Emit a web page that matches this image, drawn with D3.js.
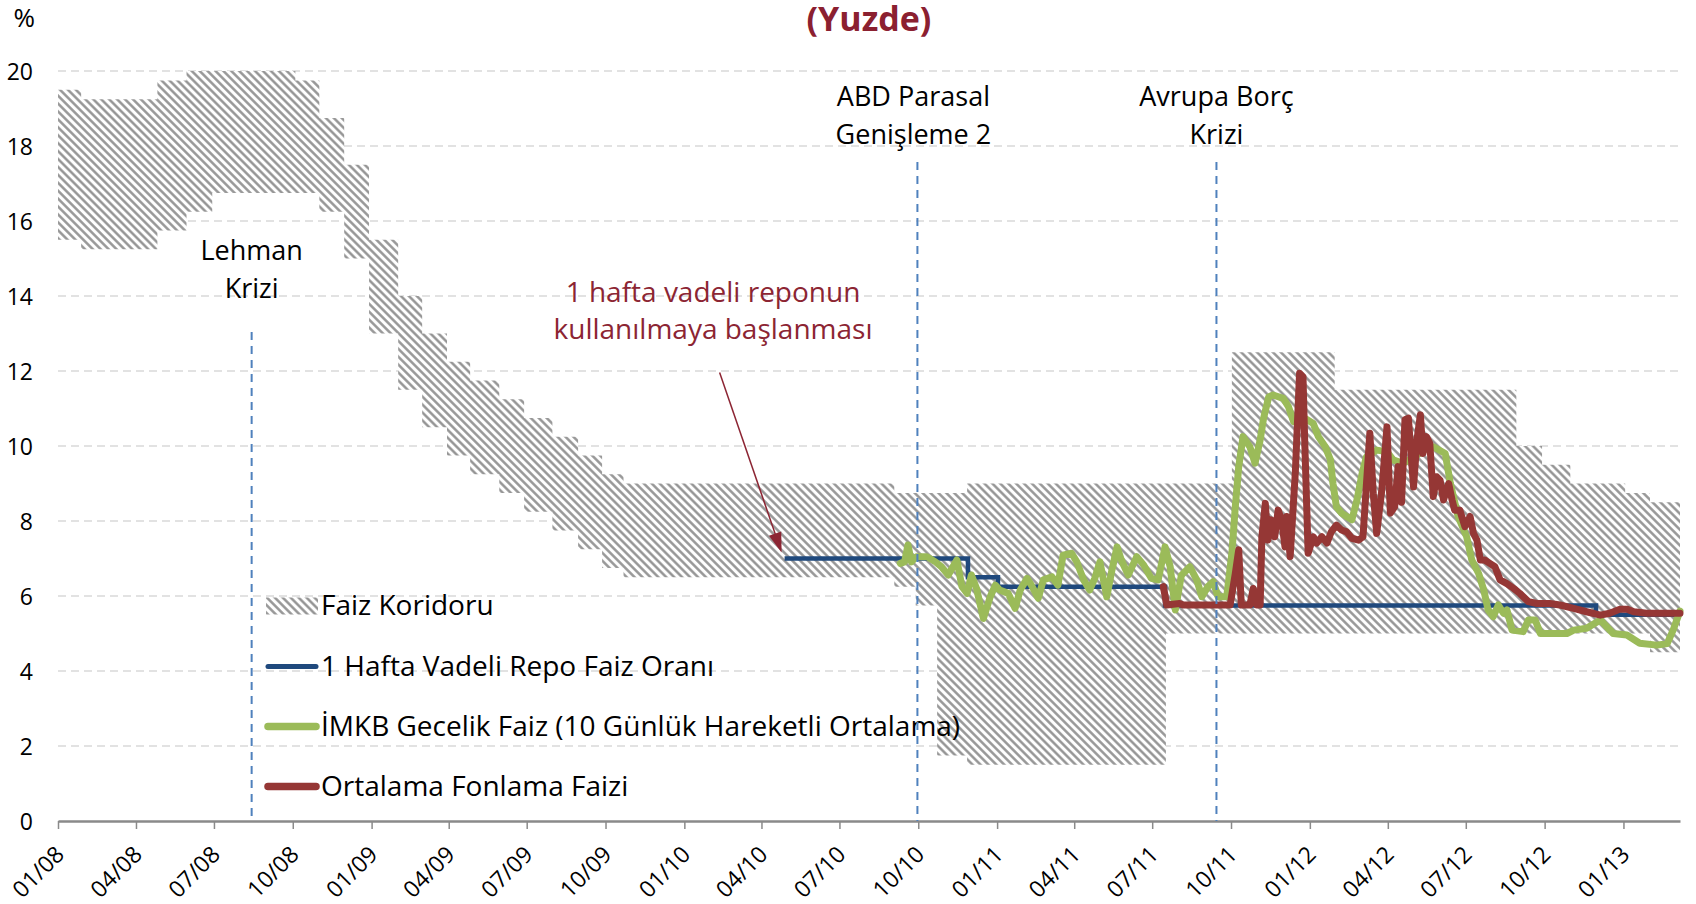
<!DOCTYPE html>
<html>
<head>
<meta charset="utf-8">
<title>Faiz Koridoru</title>
<script src="https://cdn.jsdelivr.net/npm/d3@7/dist/d3.min.js"></script>
<style>
  body { margin: 0; background: #fff; }
  #chart text { font-family: "Open Sans", sans-serif; }
</style>
</head>
<body>
<div id="chart"></div>
<script>
// Size of the SVG
var w = 1696;
var h = 904;

var parseDate = d3.timeParse("%Y-%m-%d");
var startDate = "2008-01-01";
var endDate = "2013-03-08";

// Faiz koridoru: start of each step, lower and upper bound
var corridorDates = ["2008-01-01","2008-01-28","2008-04-26","2008-05-30","2008-06-29","2008-10-04",
  "2008-11-01","2008-11-30","2008-12-29","2009-02-01","2009-03-01","2009-03-30","2009-04-26",
  "2009-05-30","2009-06-28","2009-07-31","2009-08-30","2009-09-27","2009-10-22","2010-09-03",
  "2010-09-28","2010-10-23","2010-11-27","2011-07-17","2011-10-02","2012-01-30","2012-08-29",
  "2012-09-28","2012-10-31","2013-01-03","2013-02-01"];
var corridorLower = [15.5,15.25,15.75,16.25,16.75,16.75,16.25,15,13,11.5,10.5,9.75,9.25,
  8.75,8.25,7.75,7.25,6.75,6.5,6.25,5.75,1.75,1.5,5,5,5,5,5,5,5,4.5];
var corridorUpper = [19.5,19.25,19.75,20.25,20.75,19.75,18.75,17.5,15.5,14,13,12.25,11.75,
  11.25,10.75,10.25,9.75,9.25,9,8.75,8.75,8.75,9,9,12.5,11.5,10,9.5,9,8.75,8.5];

// 1 hafta vadeli repo faiz orani (steps)
var repoDates = ["2010-04-28","2010-11-28","2011-01-02","2011-07-16","2012-11-30"];
var repoValues = [7, 6.5, 6.25, 5.75, 5.5];

// IMKB gecelik faiz (10 gunluk hareketli ortalama)
var imkbDates = [
  "2010-09-10","2010-09-15","2010-09-19","2010-09-23","2010-09-29","2010-10-11","2010-10-21","2010-10-28",
  "2010-11-05","2010-11-15","2010-11-21","2010-11-27","2010-12-02","2010-12-08","2010-12-16","2010-12-24","2010-12-30",
  "2011-01-04","2011-01-14","2011-01-22","2011-01-28","2011-02-05","2011-02-10","2011-02-18","2011-02-24",
  "2011-03-06","2011-03-13","2011-03-19","2011-03-29","2011-04-04","2011-04-12","2011-04-19","2011-04-25",
  "2011-05-01","2011-05-09","2011-05-15","2011-05-21","2011-05-26","2011-06-03","2011-06-13","2011-06-21","2011-06-30",
  "2011-07-08","2011-07-16","2011-07-22","2011-07-28","2011-08-04","2011-08-14","2011-08-22","2011-08-28",
  "2011-09-04","2011-09-10","2011-09-16","2011-09-26","2011-10-02","2011-10-06","2011-10-10","2011-10-15","2011-10-23","2011-10-29",
  "2011-11-04","2011-11-08","2011-11-14","2011-11-19","2011-12-01","2011-12-07","2011-12-13","2011-12-19","2011-12-26",
  "2012-01-05","2012-01-11","2012-01-19","2012-01-25","2012-01-28","2012-02-01","2012-02-07","2012-02-13","2012-02-19","2012-02-25",
  "2012-03-02","2012-03-07","2012-03-19","2012-03-31","2012-04-07","2012-04-19","2012-05-02","2012-05-14","2012-05-24",
  "2012-06-07","2012-06-13","2012-06-22","2012-07-02","2012-07-08","2012-07-16","2012-07-22","2012-07-27",
  "2012-08-02","2012-08-08","2012-08-14","2012-08-18","2012-08-24","2012-09-06","2012-09-12","2012-09-20","2012-09-26",
  "2012-10-27","2012-11-04","2012-11-19","2012-12-05","2012-12-20","2013-01-05","2013-01-20","2013-02-09","2013-02-21","2013-02-28","2013-03-08"];
var imkbValues = [
  6.87,6.91,7.36,6.91,7.05,7.05,6.91,6.78,
  6.56,6.96,6.25,6.07,6.56,6.2,5.4,5.98,6.29,
  6.16,6.07,5.67,6.16,6.47,6.29,5.94,6.43,
  6.51,6.29,7.09,7.14,6.91,6.43,6.16,6.47,
  6.91,5.98,6.69,7.31,6.96,6.56,7.05,6.83,6.47,
  6.43,7.31,6.78,5.63,6.55,6.78,6.43,5.98,
  6.25,6.38,5.98,5.98,7.14,8.38,9.45,10.25,9.98,9.54,
  10.16,10.74,11.31,11.36,11.27,11.05,10.65,10.69,10.74,
  10.6,10.25,9.98,9.63,9.0,8.38,8.21,8.12,8.03,8.56,
  9.27,9.71,9.89,9.85,9.63,9.54,9.71,9.9,9.98,
  9.8,9.0,8.12,7.58,6.96,6.6,6.16,5.63,
  5.45,5.76,5.54,5.63,5.09,5.05,5.36,5.36,5.0,
  5.0,5.09,5.14,5.36,5.0,4.96,4.74,4.69,4.73,5.09,5.6];

// Ortalama fonlama faizi
var fundingDates = [
  "2011-07-14","2011-07-18","2011-08-02","2011-08-06","2011-09-30","2011-10-06","2011-10-10","2011-10-13","2011-10-23","2011-10-27","2011-10-31","2011-11-04",
  "2011-11-06","2011-11-10","2011-11-13","2011-11-17","2011-11-21","2011-11-25","2011-11-29","2011-12-03","2011-12-05","2011-12-09","2011-12-15","2011-12-20","2011-12-24","2011-12-26","2011-12-30",
  "2012-01-05","2012-01-09","2012-01-15","2012-01-21","2012-01-26","2012-02-01","2012-02-07","2012-02-13","2012-02-19","2012-02-27",
  "2012-03-03","2012-03-11","2012-03-15","2012-03-19","2012-03-25","2012-03-31","2012-04-04","2012-04-09","2012-04-13","2012-04-17","2012-04-21","2012-04-25",
  "2012-05-01","2012-05-05","2012-05-09","2012-05-12","2012-05-16","2012-05-20","2012-05-24","2012-05-28","2012-06-01","2012-06-05","2012-06-11","2012-06-15","2012-06-18","2012-06-24","2012-06-30",
  "2012-07-06","2012-07-10","2012-07-14","2012-07-18","2012-07-23","2012-07-29","2012-08-04","2012-08-10","2012-08-18","2012-08-26",
  "2012-09-02","2012-09-12","2012-09-22","2012-10-07","2012-10-19","2012-11-04","2012-11-19","2012-12-05","2012-12-16","2012-12-28",
  "2013-01-05","2013-01-13","2013-01-28","2013-03-08"];
var fundingValues = [
  6.25,5.76,5.8,5.76,5.76,6.6,7.23,5.76,5.76,6.2,5.76,5.76,
  7.58,8.47,7.49,8.03,7.58,8.29,8.03,7.31,8.12,7.05,9.27,11.94,11.85,10.16,7.14,
  7.58,7.41,7.58,7.41,7.71,7.89,7.76,7.71,7.54,7.49,
  7.58,10.34,8.74,7.67,8.83,10.51,8.21,8.38,9.45,8.5,10.7,10.74,
  8.91,10.16,10.83,9.8,10.25,10.07,8.65,9.18,9.09,8.56,9.0,8.56,8.29,8.29,7.85,
  8.12,7.67,7.49,6.96,6.96,6.87,6.78,6.43,6.33,6.2,
  6.07,5.85,5.8,5.8,5.76,5.67,5.58,5.49,5.54,5.65,
  5.65,5.58,5.54,5.54];

var yTicks = [0, 2, 4, 6, 8, 10, 12, 14, 16, 18, 20];

// Olaylar (dikey kesikli cizgiler)
var eventDates = ["2008-08-14", "2010-09-30", "2011-09-14"];
var eventLabels = [["Lehman", "Krizi"], ["ABD Parasal", "Genişleme 2"], ["Avrupa Borç", "Krizi"]];

var legendLabels = ["Faiz Koridoru", "1 Hafta Vadeli Repo Faiz Oranı",
  "İMKB Gecelik Faiz (10 Günlük Hareketli Ortalama)", "Ortalama Fonlama Faizi"];

var colors = { repo: "#1f497d", imkb: "#9bbb59", funding: "#953735", note: "#8c2533" };

// Scales
var x = d3.scaleTime()
  .domain([parseDate(startDate), parseDate(endDate)])
  .range([58, 1680]);
var y = d3.scaleLinear()
  .domain([0, 20])
  .range([821, 71]);

var svg = d3.select("#chart")
  .append("svg")
  .attr("width", w)
  .attr("height", h);

var defs = svg.append("defs");
// diagonal hatch like Excel's pattern fill
var hatch = defs.append("pattern")
  .attr("id", "hatch")
  .attr("patternUnits", "userSpaceOnUse")
  .attr("width", 5.6)
  .attr("height", 5.6)
  .attr("patternTransform", "rotate(-45)");
hatch.append("rect").attr("width", 5.6).attr("height", 5.6).attr("fill", "#fff");
hatch.append("line")
  .attr("x1", 1.4).attr("x2", 1.4).attr("y1", 0).attr("y2", 5.6)
  .attr("stroke", "#919191").attr("stroke-width", 2.4);

defs.append("clipPath").attr("id", "plot")
  .append("rect")
  .attr("x", x.range()[0]).attr("y", y(20))
  .attr("width", x.range()[1] - x.range()[0])
  .attr("height", y(0) - y(20));

// Gridlines
svg.append("g")
  .selectAll("line")
  .data(yTicks.filter(function(d) { return d > 0; }))
  .enter()
  .append("line")
  .attr("x1", x.range()[0]).attr("x2", x.range()[1])
  .attr("y1", function(d) { return y(d); })
  .attr("y2", function(d) { return y(d); })
  .attr("stroke", "#d9d9d9")
  .attr("stroke-width", 1.5)
  .attr("stroke-dasharray", "8,5");

// Corridor band
var corridor = corridorDates.map(function(d, i) {
  return { date: parseDate(d), lo: corridorLower[i], hi: corridorUpper[i] };
});
var last = corridor[corridor.length - 1];
corridor.push({ date: parseDate(endDate), lo: last.lo, hi: last.hi });

var area = d3.area()
  .curve(d3.curveStepAfter)
  .x(function(d) { return x(d.date); })
  .y0(function(d) { return y(d.lo); })
  .y1(function(d) { return y(d.hi); });

svg.append("path")
  .datum(corridor)
  .attr("d", area)
  .attr("fill", "url(#hatch)")
  .attr("clip-path", "url(#plot)");

// Repo line (step)
var repo = repoDates.map(function(d, i) { return { date: parseDate(d), v: repoValues[i] }; });
repo.push({ date: parseDate(endDate), v: repoValues[repoValues.length - 1] });

var stepLine = d3.line()
  .curve(d3.curveStepAfter)
  .x(function(d) { return x(d.date); })
  .y(function(d) { return y(d.v); });

svg.append("path")
  .datum(repo)
  .attr("d", stepLine)
  .attr("fill", "none")
  .attr("stroke", colors.repo)
  .attr("stroke-width", 4.5);

var line = d3.line()
  .x(function(d) { return x(d.date); })
  .y(function(d) { return y(d.v); });

var imkb = imkbDates.map(function(d, i) { return { date: parseDate(d), v: imkbValues[i] }; });
svg.append("path")
  .datum(imkb)
  .attr("d", line)
  .attr("fill", "none")
  .attr("stroke", colors.imkb)
  .attr("stroke-width", 7)
  .attr("stroke-linejoin", "round")
  .attr("stroke-linecap", "round");

var funding = fundingDates.map(function(d, i) { return { date: parseDate(d), v: fundingValues[i] }; });
svg.append("path")
  .datum(funding)
  .attr("d", line)
  .attr("fill", "none")
  .attr("stroke", colors.funding)
  .attr("stroke-width", 7)
  .attr("stroke-linejoin", "round")
  .attr("stroke-linecap", "round");

// Axes
var yAxis = svg.append("g")
  .attr("transform", "translate(36,0)")
  .call(d3.axisLeft(y).tickValues(yTicks).tickSize(0).tickPadding(3));
yAxis.select(".domain").remove();
yAxis.selectAll("text")
  .attr("dy", "0.36em")
  .style("font-size", "23px")
  .style("fill", "#000");

var xAxis = svg.append("g")
  .attr("transform", "translate(0," + y(0) + ")")
  .call(d3.axisBottom(x)
    .ticks(d3.timeMonth.every(3))
    .tickFormat(d3.timeFormat("%m/%y"))
    .tickSize(8)
    .tickSizeOuter(0));
xAxis.select(".domain").attr("stroke", "#8a8a8a").attr("stroke-width", 2.7);
xAxis.selectAll(".tick line").attr("stroke", "#8a8a8a").attr("stroke-width", 1.5);
xAxis.selectAll("text")
  .attr("x", 0).attr("y", 0).attr("dy", 0)
  .attr("text-anchor", "end")
  .attr("transform", "translate(7,35) rotate(-45)")
  .style("font-size", "23px")
  .style("fill", "#000");

// Legend
var legendRows = [606, 666.5, 726.5, 786.5];
var legend = svg.append("g");
legend.append("rect")
  .attr("x", 266).attr("y", legendRows[0] - 8.5)
  .attr("width", 52).attr("height", 17)
  .attr("fill", "url(#hatch)");
[colors.repo, colors.imkb, colors.funding].forEach(function(c, i) {
  legend.append("line")
    .attr("x1", 268).attr("x2", 316)
    .attr("y1", legendRows[i + 1]).attr("y2", legendRows[i + 1])
    .attr("stroke", c)
    .attr("stroke-width", i === 0 ? 5 : 7.5)
    .attr("stroke-linecap", "round");
});
legend.selectAll("text")
  .data(legendLabels)
  .enter()
  .append("text")
  .attr("x", 321)
  .attr("y", function(d, i) { return legendRows[i] + 9; })
  .style("font-size", "28px")
  .style("fill", "#000")
  .text(function(d) { return d; });

// Event lines and labels
var eventTops = [332, 162, 162];
var eventBase = [260, 106, 106];
var eventShift = [0, -4, 0];
eventDates.forEach(function(d, i) {
  var ex = x(parseDate(d));
  svg.append("line")
    .attr("x1", ex).attr("x2", ex)
    .attr("y1", eventTops[i]).attr("y2", y(0))
    .attr("stroke", "#4f81bd")
    .attr("stroke-width", 2)
    .attr("stroke-dasharray", "8,6");
  eventLabels[i].forEach(function(t, j) {
    svg.append("text")
      .attr("x", ex + eventShift[i])
      .attr("y", eventBase[i] + j * 38)
      .attr("text-anchor", "middle")
      .style("font-size", "27px")
      .style("fill", "#000")
      .text(t);
  });
});

// Annotation for the start of 1 week repo
var tipX = x(parseDate(repoDates[0])) - 3;
var tipY = y(repoValues[0]) - 6;
var fromX = tipX - 62, fromY = tipY - 180;
var len = Math.sqrt(62 * 62 + 180 * 180);
var ux = 62 / len, uy = 180 / len;
svg.append("line")
  .attr("x1", fromX).attr("y1", fromY)
  .attr("x2", tipX - ux * 16).attr("y2", tipY - uy * 16)
  .attr("stroke", colors.note)
  .attr("stroke-width", 1.5);
var bx = tipX - ux * 20, by = tipY - uy * 20;
svg.append("polygon")
  .attr("points", [[tipX, tipY], [bx + uy * 6.5, by - ux * 6.5], [bx - uy * 6.5, by + ux * 6.5]]
    .map(function(p) { return p.join(","); }).join(" "))
  .attr("fill", colors.note);

["1 hafta vadeli reponun", "kullanılmaya başlanması"].forEach(function(t, j) {
  svg.append("text")
    .attr("x", 713)
    .attr("y", 302 + j * 37)
    .attr("text-anchor", "middle")
    .style("font-size", "28px")
    .style("fill", colors.note)
    .text(t);
});

// Title and unit
svg.append("text")
  .attr("x", 869)
  .attr("y", 31)
  .attr("text-anchor", "middle")
  .style("font-size", "34px")
  .style("font-weight", "bold")
  .style("fill", "#8b2030")
  .text("(Yuzde)");

svg.append("text")
  .attr("x", 35)
  .attr("y", 27)
  .attr("text-anchor", "end")
  .style("font-size", "26px")
  .style("fill", "#000")
  .text("%");
</script>
</body>
</html>
